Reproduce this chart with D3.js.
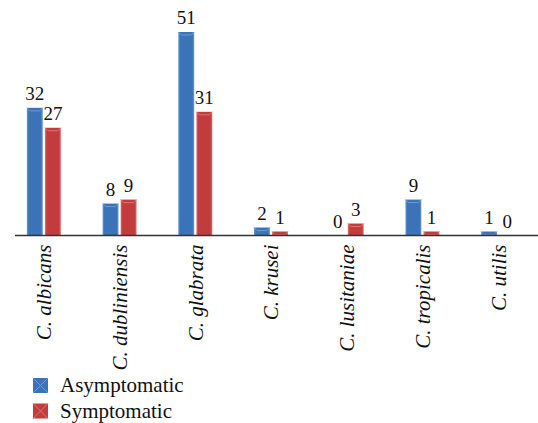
<!DOCTYPE html>
<html>
<head>
<meta charset="utf-8">
<script src="https://cdn.jsdelivr.net/npm/d3@7"></script>
<style>
  body { margin: 0; background: #fff; }
</style>
</head>
<body>
<div id="display"></div>
<script>
let w = 538;
let h = 423;

const species = ['C. albicans', 'C. dubliniensis', 'C. glabrata', 'C. krusei', 'C. lusitaniae', 'C. tropicalis', 'C. utilis'];
const asymptomatic = [32, 8, 51, 2, 0, 9, 1];
const symptomatic = [27, 9, 31, 1, 3, 1, 0];
const seriesNames = ['Asymptomatic', 'Symptomatic'];
const colors = ['#3b73b9', '#c23b3d'];
const edgeColors = ['#6b9bd6', '#e07474'];
const serif = 'Liberation Serif';

let viz = d3.select('#display')
            .append('svg')
                .attr('width', w)
                .attr('height', h)
                .style('background-color', 'white');

let defs = viz.append('defs');
colors.forEach((c, i) => {
    let g = defs.append('linearGradient').attr('id', 'grad' + i)
        .attr('x1', 0).attr('x2', 1).attr('y1', 0).attr('y2', 0);
    g.append('stop').attr('offset', 0).attr('stop-color', edgeColors[i]);
    g.append('stop').attr('offset', 0.12).attr('stop-color', c);
    g.append('stop').attr('offset', 0.88).attr('stop-color', c);
    g.append('stop').attr('offset', 1).attr('stop-color', edgeColors[i]);
});

let baseY = 235.5;
let xScale = d3.scaleBand().domain(species).range([6, 536]);
let inner = d3.scaleBand().domain([0, 1]).range([-17, 17]).paddingInner(0.12);
let yScale = d3.scaleLinear().domain([0, 51]).range([baseY, 32]);

let rows = [];
species.forEach((s, i) => {
    rows.push({ s: s, k: 0, v: asymptomatic[i] });
    rows.push({ s: s, k: 1, v: symptomatic[i] });
});

let bars = viz.append('g');
rows.forEach((d) => {
    let x0 = xScale(d.s) + xScale.bandwidth() / 2 + inner(d.k);
    let bw = inner.bandwidth();
    let y0 = yScale(d.v);
    if (d.v > 0) {
        bars.append('rect')
            .attr('x', x0).attr('y', y0)
            .attr('width', bw).attr('height', baseY - y0)
            .attr('fill', 'url(#grad' + d.k + ')');
        // bevel highlight on top
        bars.append('path')
            .attr('d', `M${x0},${y0} L${x0 + 3},${y0 + 3} L${x0 + bw - 3},${y0 + 3} L${x0 + bw},${y0}`)
            .attr('fill', 'none').attr('stroke', edgeColors[d.k]).attr('stroke-width', 1)
            .attr('opacity', Math.min(1, (baseY - y0) / 6));
    }
    viz.append('text')
        .attr('x', x0 + bw / 2)
        .attr('y', y0 - 8)
        .attr('text-anchor', 'middle')
        .style('font-family', serif)
        .style('font-size', '19px')
        .attr('fill', '#111')
        .text(d.v);
});

// axis
let xAxis = d3.axisBottom(xScale).tickSize(0).tickPadding(0);
let axisG = viz.append('g')
    .attr('class', 'xaxis')
    .attr('transform', 'translate(0,' + baseY + ')')
    .call(xAxis);
axisG.select('.domain').remove();
axisG.append('line')
    .attr('x1', 15).attr('x2', 538)
    .attr('y1', 0).attr('y2', 0)
    .attr('stroke', '#333').attr('stroke-width', 1.5);
axisG.selectAll('.tick text')
    .attr('transform', 'rotate(-90)')
    .attr('x', -9)
    .attr('y', 0)
    .attr('dy', '0.35em')
    .attr('text-anchor', 'end')
    .style('font-family', serif)
    .style('font-style', 'italic')
    .style('font-size', '21px')
    .attr('fill', '#111');

// legend
let legend = viz.append('g');
seriesNames.forEach((n, i) => {
    let ly = 378 + i * 25.5;
    legend.append('rect')
        .attr('x', 33).attr('y', ly)
        .attr('width', 15).attr('height', 15)
        .attr('fill', colors[i]);
    legend.append('path')
        .attr('d', `M33,${ly} L48,${ly + 15} M48,${ly} L33,${ly + 15}`)
        .attr('stroke', edgeColors[i]).attr('stroke-width', 1);
    legend.append('text')
        .attr('x', 60).attr('y', ly + 14)
        .style('font-family', serif)
        .style('font-size', '21px')
        .attr('fill', '#111')
        .text(n);
});
</script>
</body>
</html>
